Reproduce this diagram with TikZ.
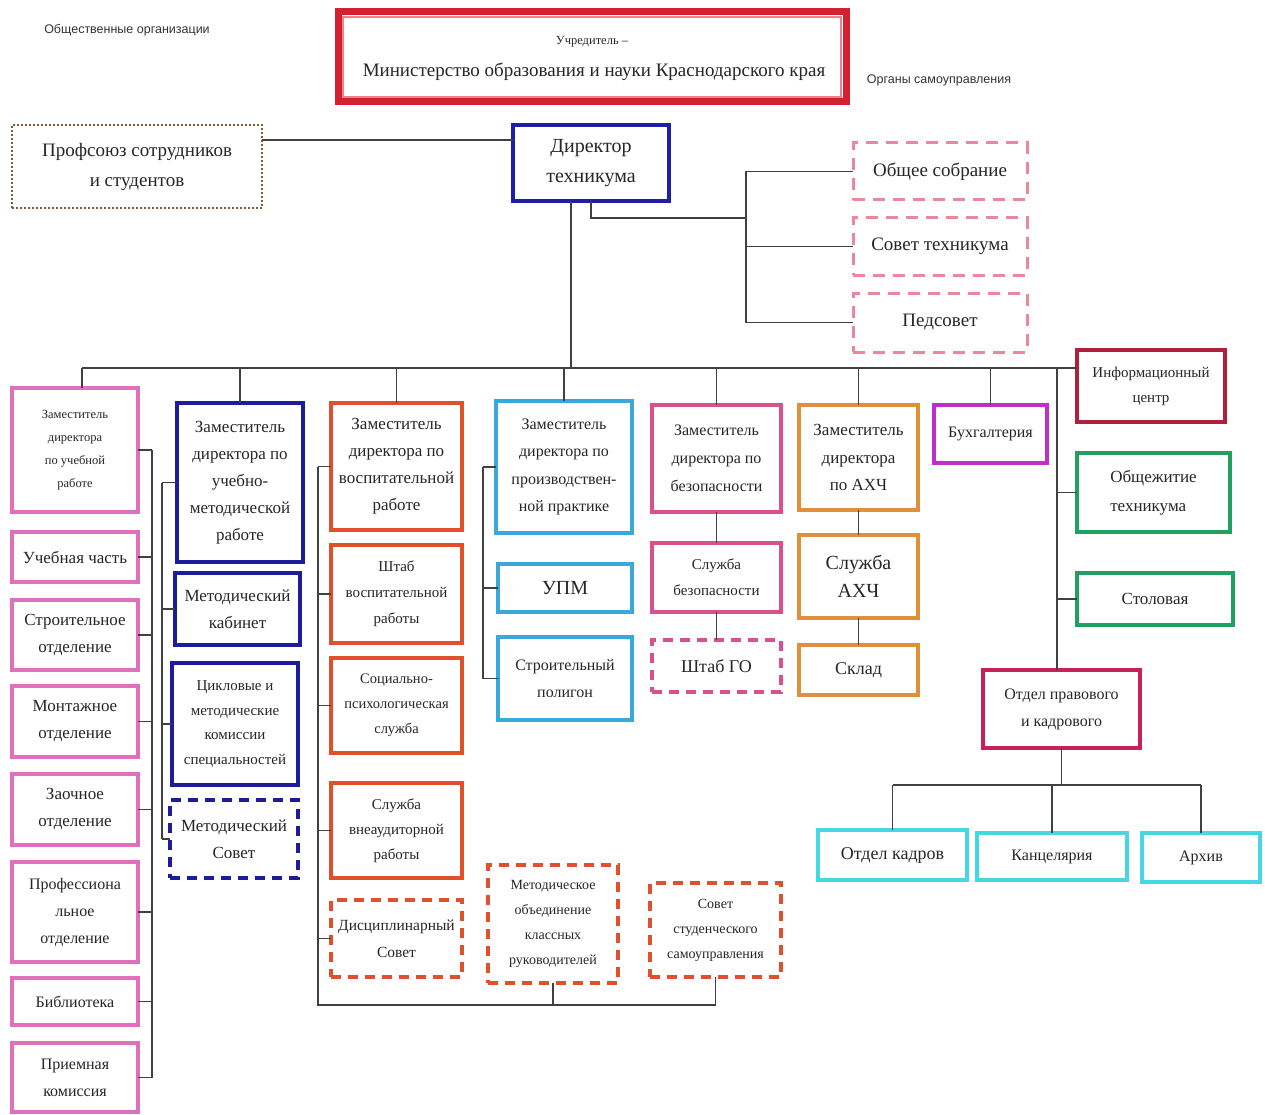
\documentclass[tikz,border=0pt]{standalone}
\usepackage{fontspec}
\setmainfont{Liberation Serif}
\newfontfamily\smallsans{Liberation Sans}
\usetikzlibrary{calc}
\definecolor{uchC}{HTML}{D42030}
\definecolor{uchIn}{HTML}{F0808A}
\definecolor{profC}{HTML}{8B5A2B}
\definecolor{dirC}{HTML}{1E1EA8}
\definecolor{orgC}{HTML}{E8889A}
\definecolor{pinkA}{HTML}{E070BC}
\definecolor{blueC}{HTML}{1C1C9C}
\definecolor{redO}{HTML}{E0502A}
\definecolor{cyanC}{HTML}{3AA8D8}
\definecolor{pinkB}{HTML}{D8508C}
\definecolor{orangeC}{HTML}{E0903A}
\definecolor{buhC}{HTML}{C030C8}
\definecolor{infoC}{HTML}{B0203A}
\definecolor{greenC}{HTML}{22A060}
\definecolor{otdpC}{HTML}{C8205A}
\definecolor{kadrC}{HTML}{45D8E2}
\definecolor{lineC}{HTML}{404040}
\newcommand\fs[2]{\fontsize{#1}{#2}\selectfont}
\begin{document}
\begin{tikzpicture}[x=1pt,y=-1pt,
  box/.style={draw=#1, line width=3.5pt, fill=white, inner sep=0pt, outer sep=0pt, align=center, text=black!85},
  dbox/.style={box=#1, dash pattern=on 10pt off 7pt},
  conn/.style={draw=lineC, line width=1.4pt}]
\fill[white] (0,0) rectangle (1265,1115);
\useasboundingbox (0,0) rectangle (1265,1115);

% labels
\node[font=\smallsans\fs{12.5}{14}, text=black!80] (lbl1) at (127,30) {Общественные организации};
\node[font=\smallsans\fs{12.5}{14}, text=black!80] (lbl2) at (939,80) {Органы самоуправления};

% top
\node[box=uchC, line width=7pt, minimum width=508pt, minimum height=90pt] (uch) at (592,57) {};
\draw[uchIn, line width=1.5pt] ($(uch.south west)+(5,-5)$) rectangle ($(uch.north east)+(-5,5)$);
\node[font=\fs{12.5}{14}, text=black!85] (uch1) at (592,42) {Учредитель –};
\node[font=\fs{19}{22}, text=black!85] (uch2) at (594,72) {Министерство образования и науки Краснодарского края};
\node[box=profC, line width=2.5pt, dash pattern=on 2pt off 2pt, minimum width=250pt, minimum height=83pt, font=\fs{19}{30}] (prof) at (137,166.5) {Профсоюз сотрудников\\и студентов};
\node[box=dirC, minimum width=156pt, minimum height=76pt, font=\fs{20}{30}] (dir) at (591,163) {Директор\\техникума};
\node[box=orgC, line width=3pt, dash pattern=on 12pt off 8pt, minimum width=174pt, minimum height=57pt, font=\fs{19}{22}] (obsh) at (940,171.5) {Общее собрание};
\node[box=orgC, line width=3pt, dash pattern=on 12pt off 8pt, minimum width=174pt, minimum height=57pt, font=\fs{19}{22}] (sovt) at (940,246.5) {Совет техникума};
\node[box=orgC, line width=3pt, dash pattern=on 12pt off 8pt, minimum width=174pt, minimum height=59pt, font=\fs{19}{22}] (ped) at (940,322.5) {Педсовет};

% column 1
\node[box=pinkA, minimum width=126pt, minimum height=124pt, font=\fs{12.5}{23}] (z1) at (75,450) {Заместитель\\директора\\по учебной\\работе};
\node[box=pinkA, minimum width=126pt, minimum height=50pt, font=\fs{17}{27}] (uchch) at (75,557) {Учебная часть};
\node[box=pinkA, minimum width=126pt, minimum height=70pt, font=\fs{17}{27}] (stroy) at (75,635) {Строительное\\отделение};
\node[box=pinkA, minimum width=126pt, minimum height=71pt, font=\fs{17}{27}] (mont) at (75,721.5) {Монтажное\\отделение};
\node[box=pinkA, minimum width=126pt, minimum height=71pt, font=\fs{17}{27}] (zaoch) at (75,809.5) {Заочное\\отделение};
\node[box=pinkA, minimum width=126pt, minimum height=100pt, font=\fs{16}{27}] (profo) at (75,912) {Профессиона\\льное\\отделение};
\node[box=pinkA, minimum width=126pt, minimum height=47pt, font=\fs{16}{27}] (bibl) at (75,1001.5) {Библиотека};
\node[box=pinkA, minimum width=126pt, minimum height=69pt, font=\fs{16}{27}] (priem) at (75,1077.5) {Приемная\\комиссия};

% column 2
\node[box=blueC, minimum width=126pt, minimum height=159pt, font=\fs{17}{27}] (zumr) at (240,482.5) {Заместитель\\директора по\\учебно-\\методической\\работе};
\node[box=blueC, minimum width=125pt, minimum height=72pt, font=\fs{17}{27}] (metk) at (237.5,609) {Методический\\кабинет};
\node[box=blueC, minimum width=126pt, minimum height=122pt, font=\fs{15}{24.5}] (cikl) at (235,724) {Цикловые и\\методические\\комиссии\\специальностей};
\node[dbox=blueC, minimum width=128pt, minimum height=78pt, font=\fs{17}{27}] (mets) at (234,839) {Методический\\Совет};

% column 3
\node[box=redO, minimum width=131pt, minimum height=127pt, font=\fs{17}{27}] (zvr) at (396.5,466.5) {Заместитель\\директора по\\воспитательной\\работе};
\node[box=redO, minimum width=131pt, minimum height=98pt, font=\fs{15}{26}] (shtab) at (396.5,594) {Штаб\\воспитательной\\работы};
\node[box=redO, minimum width=131pt, minimum height=95pt, font=\fs{14.5}{25}] (socp) at (396.5,705.5) {Социально-\\психологическая\\служба};
\node[box=redO, minimum width=131pt, minimum height=95pt, font=\fs{15}{25}] (vneaud) at (396.5,830.5) {Служба\\внеаудиторной\\работы};
\node[dbox=redO, minimum width=131pt, minimum height=77pt, font=\fs{15.5}{27}] (disc) at (396.5,938.5) {Дисциплинарный\\Совет};
\node[dbox=redO, minimum width=130pt, minimum height=118pt, font=\fs{14}{25}] (molk) at (553,924) {Методическое\\объединение\\классных\\руководителей};
\node[dbox=redO, minimum width=131pt, minimum height=94pt, font=\fs{14}{25}] (sss) at (715.5,930) {Совет\\студенческого\\самоуправления};

% column 4
\node[box=cyanC, minimum width=136pt, minimum height=132pt, font=\fs{16}{27.5}] (zpp) at (564,467) {Заместитель\\директора по\\производствен-\\ной практике};
\node[box=cyanC, minimum width=134pt, minimum height=48pt, font=\fs{20}{22}] (upm) at (565,588) {УПМ};
\node[box=cyanC, minimum width=134pt, minimum height=83pt, font=\fs{16}{27}] (spol) at (565,678.5) {Строительный\\полигон};

% column 5
\node[box=pinkB, minimum width=129pt, minimum height=107pt, font=\fs{16}{28}] (zbez) at (716.5,458.5) {Заместитель\\директора по\\безопасности};
\node[box=pinkB, minimum width=129pt, minimum height=69pt, font=\fs{15}{26}] (sbez) at (716.5,577.5) {Служба\\безопасности};
\node[dbox=pinkB, minimum width=129pt, minimum height=52pt, font=\fs{18}{22}] (shgo) at (716.5,666) {Штаб ГО};

% column 6
\node[box=orangeC, minimum width=119pt, minimum height=105pt, font=\fs{17}{27.5}] (zahc) at (858.5,457.5) {Заместитель\\директора\\по АХЧ};
\node[box=orangeC, minimum width=119pt, minimum height=83pt, font=\fs{20}{28}] (sahc) at (858.5,576.5) {Служба\\АХЧ};
\node[box=orangeC, minimum width=119pt, minimum height=50pt, font=\fs{18}{22}] (sklad) at (858.5,670) {Склад};

% column 7
\node[box=buhC, minimum width=113pt, minimum height=58pt, font=\fs{16}{22}] (buh) at (990.5,434) {Бухгалтерия};

% column 8
\node[box=infoC, minimum width=148pt, minimum height=72pt, font=\fs{15}{25}] (info) at (1151,386) {Информационный\\центр};
\node[box=greenC, minimum width=153pt, minimum height=79pt, font=\fs{17}{29}, align=left] (obshj) at (1153.5,492.5) {Общежитие\\техникума};
\node[box=greenC, minimum width=156pt, minimum height=52pt, font=\fs{17}{22}] (stol) at (1155,599) {Столовая};
\node[box=otdpC, minimum width=157pt, minimum height=78pt, font=\fs{16}{27}] (otdp) at (1061.5,709) {Отдел правового\\и кадрового};
\node[box=kadrC, minimum width=149pt, minimum height=50pt, font=\fs{18}{22}] (okadr) at (892.5,855) {Отдел кадров};
\node[box=kadrC, minimum width=150pt, minimum height=47pt, font=\fs{16}{22}] (kanc) at (1052,856.5) {Канцелярия};
\node[box=kadrC, minimum width=118pt, minimum height=49pt, font=\fs{16}{22}] (arh) at (1201,857.5) {Архив};

% connectors
\coordinate (y140) at (0,140);
\draw[conn] (prof.east |- y140) -- (dir.west |- y140);
\coordinate (busL) at (82,368);
\coordinate (dA) at ($(dir.south)+(-20,0)$);
\draw[conn] (dA) -- (dA |- busL);
\coordinate (ob) at (746,218);
\draw[conn] (dir.south) |- (ob);
\draw[conn] (ob |- obsh.west) -- (ob |- ped.west);
\foreach \n in {obsh,sovt,ped} \draw[conn] (ob |- \n.west) -- (\n.west);
\draw[conn] (busL) -- (busL -| info.west);
\foreach \n in {zumr,zvr,zpp,zbez,zahc,buh} \draw[conn] (\n.north |- busL) -- (\n.north);
\draw[conn] (busL) -- (busL |- z1.north);
% column 1
\coordinate (c1) at (152,0);
\draw[conn] (c1 |- z1.east) -- (c1 |- priem.east);
\foreach \n in {z1,uchch,stroy,mont,zaoch,profo,bibl,priem} \draw[conn] (\n.east) -- (c1 |- \n.east);
% column 2
\coordinate (c2) at (162,0);
\draw[conn] (c2 |- zumr.west) -- (c2 |- mets.west);
\foreach \n in {zumr,metk,cikl,mets} \draw[conn] (\n.west) -- (c2 |- \n.west);
% column 3
\coordinate (c3) at (318,0);
\coordinate (b3) at (318,1005);
\draw[conn] (c3 |- zvr.west) -- (b3) -- (b3 -| sss.south) -- (sss.south);
\draw[conn] (molk.south) -- (molk.south |- b3);
\foreach \n in {zvr,shtab,socp,vneaud,disc} \draw[conn] (\n.west) -- (c3 |- \n.west);
% column 4
\coordinate (c4) at (483,0);
\draw[conn] (c4 |- zpp.west) -- (c4 |- spol.west);
\foreach \n in {zpp,upm,spol} \draw[conn] (\n.west) -- (c4 |- \n.west);
% columns 5, 6
\draw[conn] (zbez.south) -- (sbez.north);
\draw[conn] (sbez.south) -- (shgo.north);
\draw[conn] (zahc.south) -- (sahc.north);
\draw[conn] (sahc.south) -- (sklad.north);
% column 8
\coordinate (c8) at (1057,368);
\draw[conn] (c8) -- (c8 |- otdp.north);
\foreach \n in {obshj,stol} \draw[conn] (c8 |- \n.west) -- (\n.west);
\coordinate (kb) at (0,785);
\draw[conn] (otdp.south) -- (otdp.south |- kb);
\draw[conn] (okadr.north |- kb) -- (arh.north |- kb);
\foreach \n in {okadr,kanc,arh} \draw[conn] (\n.north |- kb) -- (\n.north);
\end{tikzpicture}
\end{document}
